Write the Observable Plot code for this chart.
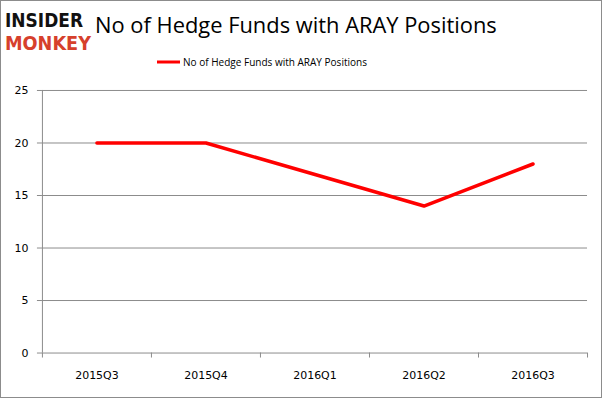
<!DOCTYPE html>
<html>
<head>
<meta charset="utf-8">
<script src="https://cdn.jsdelivr.net/npm/d3@7"></script>
<script src="https://cdn.jsdelivr.net/npm/@observablehq/plot@0.6"></script>
<style>
  body { margin: 0; background: #fff; }
  #frame { position: relative; width: 602px; height: 398px; box-sizing: border-box; border: 1px solid #8c8c8c; overflow: hidden; background: #fff; }
  #header { position: absolute; left: -1px; top: -1px; }
  #chart { position: absolute; left: -1px; top: 79px; }
</style>
</head>
<body>
<div id="frame">
  <svg id="header" width="602" height="80" xmlns="http://www.w3.org/2000/svg">
    <text class="fit" data-w="78" x="5" y="27" font-family="DejaVu Sans Condensed, DejaVu Sans" font-stretch="condensed" font-weight="bold" font-size="19" fill="#111">INSIDER</text>
    <text class="fit" data-w="86" x="5" y="50" font-family="DejaVu Sans Condensed, DejaVu Sans" font-stretch="condensed" font-weight="bold" font-size="21" fill="#d6402c">MONKEY</text>
    <text class="fit" data-w="402" x="95" y="33" font-family="Open Sans" font-size="21" fill="#000">No of Hedge Funds with ARAY Positions</text>
    <line x1="157" x2="180" y1="62" y2="62" stroke="#ff0000" stroke-width="3"/>
    <text class="fit" data-w="184" x="183" y="66" font-family="Open Sans" font-size="11" fill="#000">No of Hedge Funds with ARAY Positions</text>
  </svg>
  <div id="chart"></div>
</div>
<script>
const quarters = ["2015Q3", "2015Q4", "2016Q1", "2016Q2", "2016Q3"];
const funds = [20, 20, 17, 14, 18];
const yTicks = [0, 5, 10, 15, 20, 25];

// fit header texts to the widths seen in the reference by adjusting font size
document.querySelectorAll("#header text.fit").forEach(t => {
  const target = +t.dataset.w;
  const fs = +t.getAttribute("font-size");
  const w = t.getComputedTextLength();
  if (w > 0) t.setAttribute("font-size", (fs * target / w).toFixed(2));
});

const data = quarters.map((q, i) => ({i, q, v: funds[i]}));
const edges = quarters.map((q, i) => i - 0.5).concat([quarters.length - 0.5]);

const chart = Plot.plot({
  width: 602,
  height: 318,
  marginTop: 10,
  marginBottom: 45,
  marginLeft: 42,
  marginRight: 14,
  style: {fontFamily: "DejaVu Sans", fontSize: "11px", color: "#000", background: "transparent"},
  x: {type: "linear", domain: [-0.5, quarters.length - 0.5]},
  y: {domain: [0, 25]},
  marks: [
    Plot.gridY({ticks: yTicks.slice(1), stroke: "#8c8c8c", strokeOpacity: 1}),
    Plot.axisY({ticks: yTicks, tickSize: 5, tickPadding: 9, stroke: "#8c8c8c", label: null}),
    Plot.ruleX([-0.5], {stroke: "#8c8c8c"}),
    Plot.ruleY([0], {stroke: "#8c8c8c"}),
    Plot.axisX({ticks: edges, tickSize: 5, tickFormat: () => "", stroke: "#8c8c8c", label: null}),
    Plot.axisX({ticks: quarters.map((q, i) => i), tickSize: 0, tickPadding: 18, tickFormat: i => quarters[i], label: null}),
    Plot.line(data, {x: "i", y: "v", stroke: "#ff0000", strokeWidth: 3.5, strokeLinecap: "round", strokeLinejoin: "round"})
  ]
});
document.getElementById("chart").appendChild(chart);
</script>
</body>
</html>
